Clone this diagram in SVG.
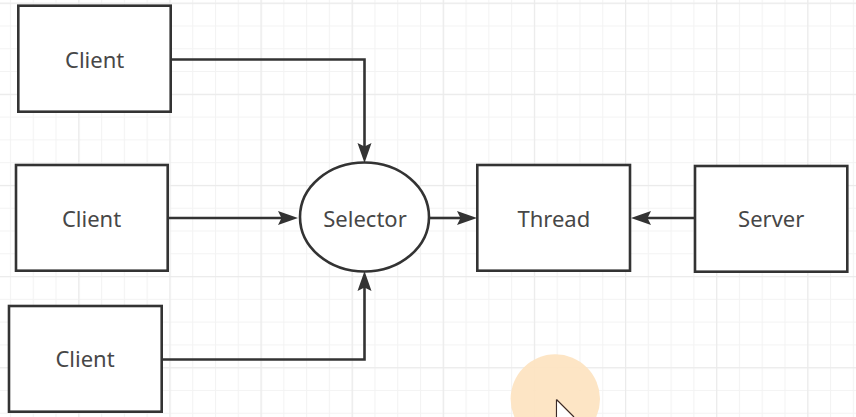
<svg xmlns="http://www.w3.org/2000/svg" width="856" height="417" viewBox="0 0 856 417">
  <defs>
    <pattern id="minor" patternUnits="userSpaceOnUse" x="9.94" y="2.7" width="22.78" height="22.78">
      <path d="M0.5 0 V22.78 M0 0.5 H22.78" fill="none" stroke="#f3f3f3" stroke-width="1.2"/>
    </pattern>
    <pattern id="major" patternUnits="userSpaceOnUse" x="78.3" y="2.7" width="91.12" height="91.12">
      <path d="M0.5 0 V91.12 M0 0.5 H91.12" fill="none" stroke="#ebebeb" stroke-width="1.4"/>
    </pattern>
    <marker id="arrow" markerUnits="userSpaceOnUse" viewBox="0 0 20 15" refX="4" refY="7.5" markerWidth="20" markerHeight="15" orient="auto">
      <path d="M0,0.5 L20,7.5 L0,14.5 L3.5,7.5 Z" fill="#333333"/>
    </marker>
  </defs>
  <style>
    .box { fill: #ffffff; stroke: #333333; stroke-width: 2.6; }
    .label { font-family: "Noto Sans", "Open Sans", sans-serif; font-size: 22px; fill: #474747; text-anchor: middle; }
    .edge { fill: none; stroke: #333333; stroke-width: 2.6; marker-end: url(#arrow); }
  </style>
  <rect width="856" height="417" fill="#ffffff"/>
  <rect width="856" height="417" fill="url(#minor)"/>
  <rect width="856" height="417" fill="url(#major)"/>

  <g id="connectors">
    <path class="edge" d="M170.5 59.5 H364.5 V147"/>
    <path class="edge" d="M168 218 H282"/>
    <path class="edge" d="M161.5 359.5 H364.5 V287"/>
    <path class="edge" d="M429 218 H461"/>
    <path class="edge" d="M694.5 218 H647"/>
  </g>

  <g id="client1">
    <rect class="box" x="18.3" y="5.7" width="152.4" height="106"/>
    <text class="label" x="94.6" y="68.3">Client</text>
  </g>
  <g id="client2">
    <rect class="box" x="16" y="165" width="151.7" height="105.7"/>
    <text class="label" x="91.5" y="227.3">Client</text>
  </g>
  <g id="client3">
    <rect class="box" x="9" y="306" width="152.7" height="105.7"/>
    <text class="label" x="85" y="367.3">Client</text>
  </g>
  <g id="selector">
    <ellipse class="box" cx="364.5" cy="217" rx="64.5" ry="54.5"/>
    <text class="label" x="365" y="226.7">Selector</text>
  </g>
  <g id="thread">
    <rect class="box" x="477.3" y="165" width="152.7" height="105.7"/>
    <text class="label" x="553.8" y="227.3">Thread</text>
  </g>
  <g id="server">
    <rect class="box" x="695" y="166" width="152.3" height="105.7"/>
    <text class="label" x="771.2" y="227.3">Server</text>
  </g>

  <g id="cursor-highlight">
    <circle cx="555.3" cy="399" r="44.7" fill="#fde3c0" fill-opacity="0.92"/>
    <path d="M556.5 399.5 L556.5 417 M556.5 399.5 L574 417" fill="none" stroke="#3a2a2a" stroke-width="1.2"/>
    <path d="M557.2 401.5 L557.2 417 L572.5 417 Z" fill="#ffffff"/>
  </g>
</svg>
